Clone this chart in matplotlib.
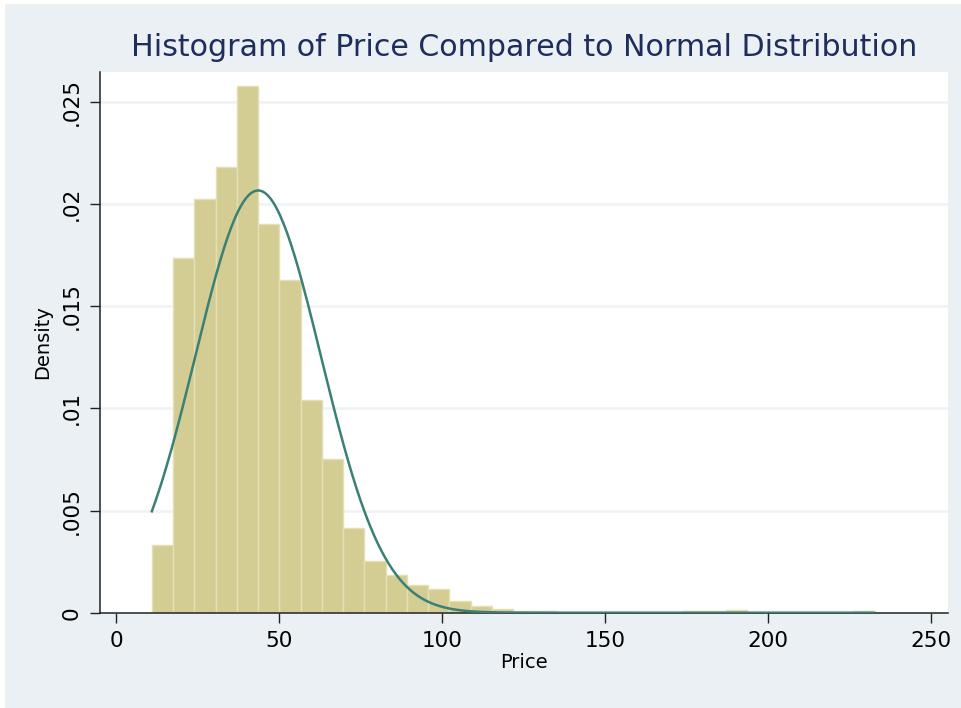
import numpy as np
import matplotlib
matplotlib.use("Agg")
import matplotlib.pyplot as plt
from matplotlib.patches import Rectangle

# histogram of price (density scale), 34 bins starting at the data minimum
bin_start = 11.0
bin_width = 6.52
density = [0.00329, 0.01734, 0.02026, 0.02183, 0.02579, 0.01902, 0.01627, 0.01041,
           0.00754, 0.00415, 0.00255, 0.00183, 0.00137, 0.00116, 0.00057, 0.00035,
           0.00016, 0.00010, 0.00008, 0, 0, 0, 0, 0,
           0, 0.00008, 0.00008, 0.00013, 0, 0, 0, 0,
           0, 0.00008]

# normal overlay (peak position and height)
price_mean = 43.6
price_sd = 19.3
price_max = 232.3

xticks = [0, 50, 100, 150, 200, 250]
yticks = [0, 0.005, 0.01, 0.015, 0.02, 0.025]
ytick_labels = ["0", ".005", ".01", ".015", ".02", ".025"]

bar_color = "#d3cd93"
edge_color = "#e4e0b6"
curve_color = "#3a8075"
bg_color = "#eaf0f3"
grid_color = "#edf3f6"
title_color = "#1e2d5c"

W, H = 962, 708
fig = plt.figure(figsize=(W / 100, H / 100), dpi=100)
fig.patch.set_facecolor("white")
# light frame, white strip only on the left and top edges
fig.patches.append(Rectangle((5 / W, 0), 1, 1 - 4 / H, transform=fig.transFigure,
                             facecolor=bg_color, edgecolor="none", zorder=-10))

ax = fig.add_axes([100 / W, 1 - 612.7 / H, 848 / W, 540.7 / H])
ax.set_facecolor("white")

lefts = [bin_start + i * bin_width for i in range(len(density))]
ax.bar(lefts, density, width=bin_width, align="edge", color=bar_color,
       edgecolor=edge_color, linewidth=1.0, zorder=2)

xs = np.linspace(bin_start, price_max, 400)
pdf = np.exp(-0.5 * ((xs - price_mean) / price_sd) ** 2) / (price_sd * np.sqrt(2 * np.pi))
ax.plot(xs, pdf, color=curve_color, linewidth=1.8, zorder=3)

ax.set_xlim(-4.9, 255.2)
ax.set_ylim(0, 0.02647)

ax.set_xticks(xticks)
ax.set_xticklabels([str(t) for t in xticks])
ax.set_yticks(yticks)
ax.set_yticklabels(ytick_labels, rotation=90, va="center")

for v in yticks[1:]:
    ax.axhline(v, color=grid_color, linewidth=1.8, zorder=1)

for s in ["top", "right"]:
    ax.spines[s].set_visible(False)
for s in ["left", "bottom"]:
    ax.spines[s].set_color("#222222")
    ax.spines[s].set_linewidth(1.1)

ax.tick_params(axis="both", direction="out", length=7, width=1.0, color="#222222",
               labelsize=15.5, labelcolor="black")
ax.tick_params(axis="x", pad=6)
ax.tick_params(axis="y", pad=6)

ax.set_xlabel("Price", fontsize=14)
ax.set_ylabel("Density", fontsize=14)
ax.xaxis.set_label_coords(0.5, (612.7 - 663) / 540.7)
ax.xaxis.label.set_va("center")
ax.yaxis.set_label_coords((43 - 100) / 848, 0.5)
ax.yaxis.label.set_va("center")

fig.text(524 / W, 1 - 47 / H, "Histogram of Price Compared to Normal Distribution",
         ha="center", va="center", fontsize=21.6, color=title_color)

fig.savefig("out.png", dpi=100, facecolor=fig.get_facecolor())
